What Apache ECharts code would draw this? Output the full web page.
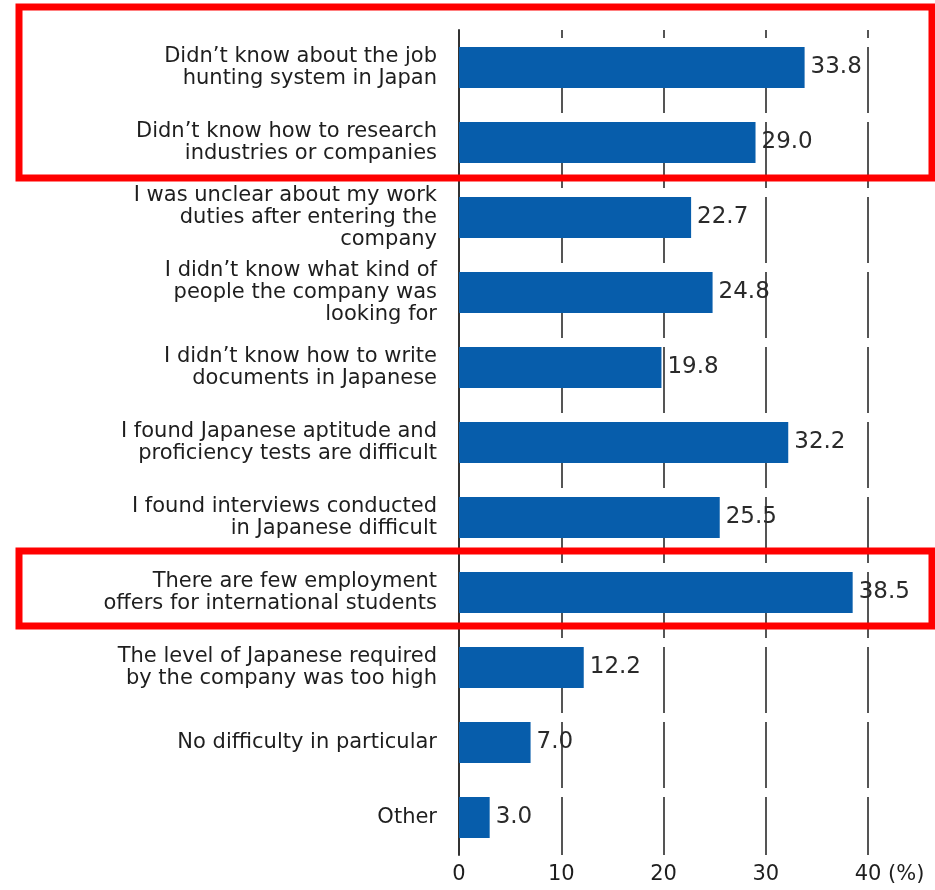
<!DOCTYPE html>
<html>
<head>
<meta charset="utf-8">
<script src="https://cdn.jsdelivr.net/npm/echarts@6/dist/echarts.min.js"></script>
<style>
html,body{margin:0;padding:0;background:#fff;}
#chart{width:935px;height:890px;}
</style>
</head>
<body>
<div id="chart"></div>
<script>
const categories = [
  "Didn’t know about the job\nhunting system in Japan",
  "Didn’t know how to research\nindustries or companies",
  "I was unclear about my work\nduties after entering the\ncompany",
  "I didn’t know what kind of\npeople the company was\nlooking for",
  "I didn’t know how to write\ndocuments in Japanese",
  "I found Japanese aptitude and\nproficiency tests are difficult",
  "I found interviews conducted\nin Japanese difficult",
  "There are few employment\noffers for international students",
  "The level of Japanese required\nby the company was too high",
  "No difficulty in particular",
  "Other"
];
const values = [33.8, 29.0, 22.7, 24.8, 19.8, 32.2, 25.5, 38.5, 12.2, 7.0, 3.0];
const xTicks = [0, 10, 20, 30, 40];
const unitLabel = "(%)";

const chart = echarts.init(document.getElementById('chart'), null, {renderer: 'canvas'});
const font = "'DejaVu Sans', 'Liberation Sans', Arial, sans-serif";
chart.setOption({
  animation: false,
  textStyle: {fontFamily: font},
  grid: {left: 459, right: 67, top: 30, height: 825, containLabel: false},
  xAxis: {
    type: 'value', min: xTicks[0], max: xTicks[xTicks.length-1], interval: 10,
    axisLine: {show: false}, axisTick: {show: false},
    axisLabel: {color: '#1e1e1e', fontSize: 21, margin: 9, fontFamily: font},
    splitLine: {show: true, lineStyle: {color: '#555', width: 2, type: [66, 9], dashOffset: 58}},
    name: unitLabel, nameLocation: 'end', nameGap: 20,
    nameTextStyle: {color: '#1e1e1e', fontSize: 21, align: 'left', verticalAlign: 'top', padding: [9, 0, 0, 0], fontFamily: font}
  },
  yAxis: {
    type: 'category', data: categories, inverse: true,
    axisLine: {show: true, lineStyle: {color: '#333', width: 2}},
    axisTick: {show: false},
    axisLabel: {color: '#1e1e1e', fontSize: 21, lineHeight: 22, margin: 22, align: 'right', fontFamily: font}
  },
  series: [{
    type: 'bar', data: values, barWidth: 41,
    itemStyle: {color: '#075dab'},
    label: {show: true, position: 'right', distance: 6, color: '#2a2a2a', fontSize: 23, fontFamily: font,
      formatter: p => p.value.toFixed(1)}
  }],
  graphic: [
    {type: 'rect', shape: {x: 19, y: 7, width: 913, height: 171}, style: {fill: 'none', stroke: '#ff0000', lineWidth: 7}, z: 100},
    {type: 'rect', shape: {x: 19, y: 551, width: 913, height: 75}, style: {fill: 'none', stroke: '#ff0000', lineWidth: 7}, z: 100}
  ]
});
</script>
</body>
</html>
